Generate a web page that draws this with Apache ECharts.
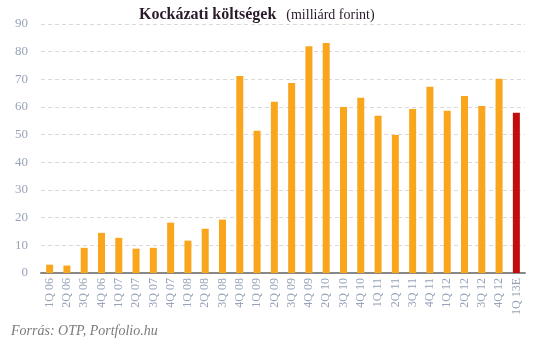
<!DOCTYPE html>
<html><head><meta charset="utf-8">
<script src="https://cdn.jsdelivr.net/npm/echarts@6/dist/echarts.min.js"></script>
<style>html,body{margin:0;padding:0;background:#fff}#c{width:542px;height:343px}</style>
</head><body><div id="c"></div>
<script>
const categories = ['1Q 06','2Q 06','3Q 06','4Q 06','1Q 07','2Q 07','3Q 07','4Q 07','1Q 08','2Q 08','3Q 08','4Q 08','1Q 09','2Q 09','3Q 09','4Q 09','2Q 10','3Q 10','4Q 10','1Q 11','2Q 11','3Q 11','4Q 11','1Q 12','2Q 12','3Q 12','4Q 12','1Q 13E'];
const values = [3.0,2.7,9.1,14.5,12.7,8.8,9.1,18.2,11.7,16.0,19.3,71.2,51.4,61.9,68.7,82.0,83.1,60.0,63.3,56.8,49.9,59.3,67.3,58.6,64.0,60.4,70.2,57.9];
const estimateIndex = [27];
const colors = {actual:'#F9A61C', estimate:'#C10D0C'};
const serif = '"Liberation Serif","DejaVu Serif",serif';
const chart = echarts.init(document.getElementById('c'));
chart.setOption({
  animation:false,
  title:{
    text:'{b|Kockázati költségek}  {n|(milliárd forint)}',
    left:134, top:1,
    textStyle:{fontWeight:'normal',rich:{
      b:{fontFamily:serif,fontWeight:'bold',fontSize:16,color:'#2a1a2a'},
      n:{fontFamily:serif,fontWeight:'normal',fontSize:14,color:'#2a1a2a'}
    }}
  },
  graphic:[{type:'text',left:11,top:324,style:{text:'Forrás: OTP, Portfolio.hu',font:'italic 14px '+serif,fill:'#7a7a7a'}}],
  grid:{left:41,right:17,top:24,bottom:70},
  xAxis:{type:'category',data:categories,
    axisLine:{lineStyle:{color:'#888',width:2}},
    axisTick:{show:false},
    axisLabel:{rotate:90,interval:0,fontFamily:serif,fontSize:12,color:'#97a3b8',margin:5}
  },
  yAxis:{type:'value',min:0,max:90,interval:10,
    axisLine:{show:false},axisTick:{show:false},
    splitLine:{lineStyle:{color:'#d9d9d9',type:[4,3]}},
    axisLabel:{fontFamily:serif,fontSize:13,color:'#97a3b8',margin:13}
  },
  series:[{type:'bar',barWidth:7,
    data:values.map((v,i)=>({value:v,itemStyle:{color:estimateIndex.includes(i)?colors.estimate:colors.actual}}))
  }]
});
</script></body></html>
